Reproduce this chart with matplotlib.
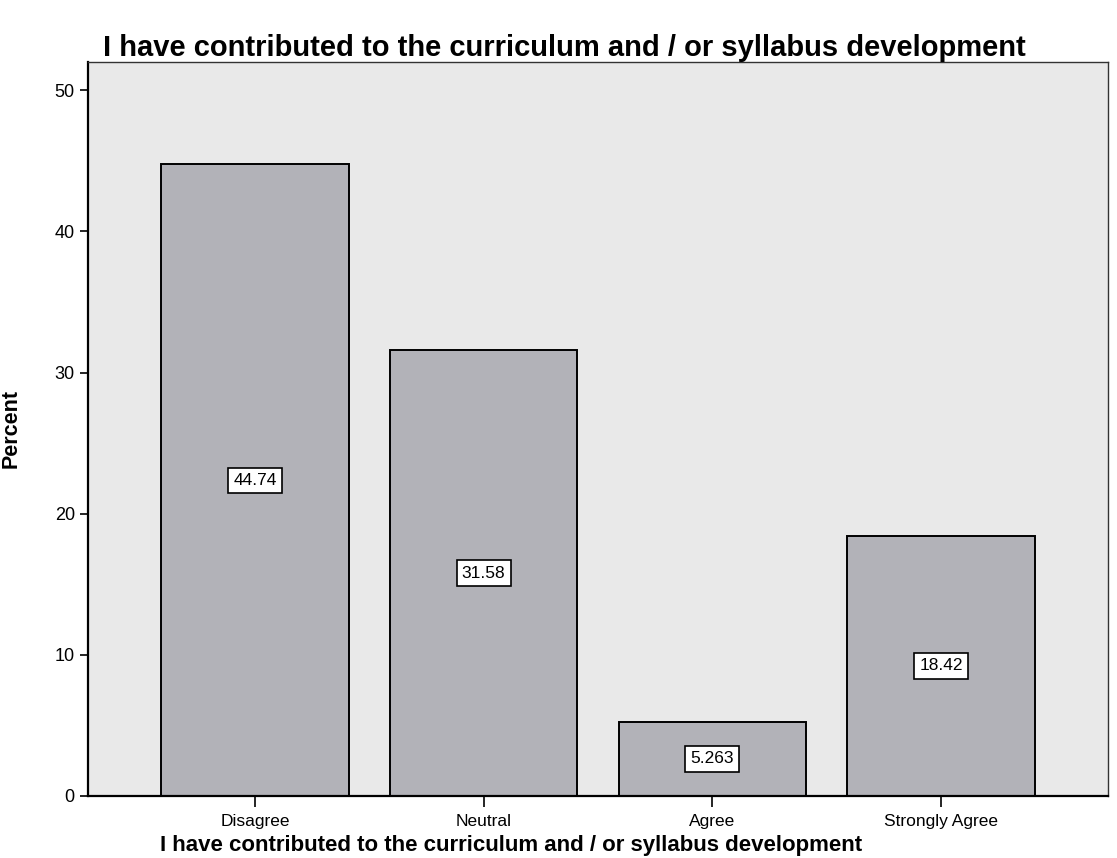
import matplotlib
matplotlib.use("Agg")
import matplotlib.pyplot as plt

categories = ["Disagree", "Neutral", "Agree", "Strongly Agree"]
percent = [44.74, 31.58, 5.263, 18.42]
bar_labels = ["44.74", "31.58", "5.263", "18.42"]
yticks = [0, 10, 20, 30, 40, 50]

plt.rcParams['font.family'] = ['Liberation Sans', 'DejaVu Sans']

fig = plt.figure(figsize=(11.17, 8.58), dpi=100)
fig.patch.set_facecolor('white')
ax = fig.add_axes([88/1117, 1 - 796/858, (1108-88)/1117, (796-62)/858])
ax.set_facecolor('#e9e9e9')

x = range(len(categories))
ax.bar(x, percent, width=0.82, color='#b2b2b8', edgecolor='black', linewidth=1.4, zorder=2)
for xi, v, lab in zip(x, percent, bar_labels):
    ax.text(xi, v / 2, lab, ha='center', va='center', fontsize=12.5, zorder=3,
            bbox=dict(boxstyle='square,pad=0.3', facecolor='white', edgecolor='black', linewidth=1.2))

ax.set_xlim(-0.73, 3.73)
ax.set_ylim(0, 52)
ax.set_yticks(yticks)
ax.set_xticks(list(x))
ax.set_xticklabels(categories, fontsize=12.5)
ax.tick_params(axis='y', labelsize=13, length=6, width=1.2, direction='out', colors='black')
ax.tick_params(axis='x', length=8, width=1.2, direction='out', pad=5)
for s in ['top', 'right']:
    ax.spines[s].set_linewidth(1.0)
    ax.spines[s].set_color('#333333')
for s in ['left', 'bottom']:
    ax.spines[s].set_linewidth(1.6)

ax.set_ylabel("Percent", fontsize=15.5, fontweight='bold', labelpad=24)
ax.set_title("I have contributed to the curriculum and / or syllabus development",
             fontsize=21, fontweight='bold', loc='left', x=0.015, pad=4)

fig.text(160/1117, 1 - 856/858, "I have contributed to the curriculum and / or syllabus development",
         fontsize=16, fontweight='bold', ha='left', va='bottom')

fig.savefig("out.png", dpi=100)
